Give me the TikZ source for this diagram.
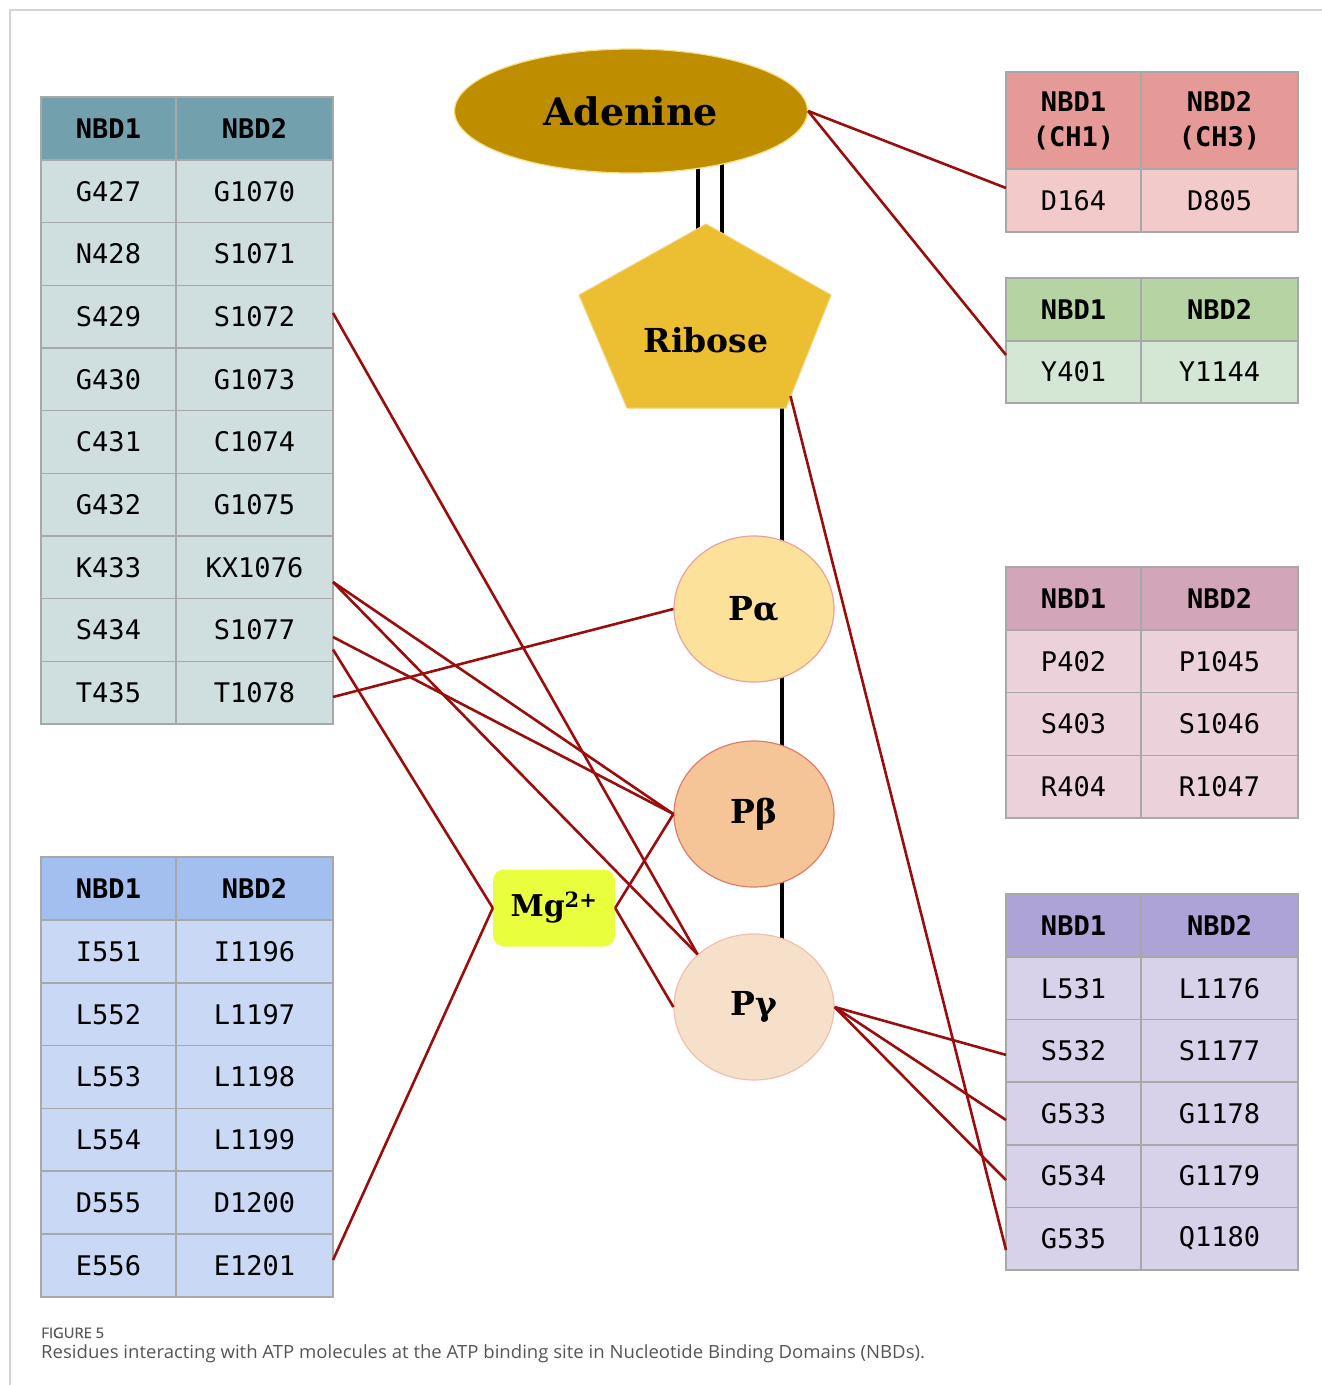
\documentclass[tikz,border=0pt]{standalone}
\usepackage{fontspec}
\setmonofont{DejaVu Sans Mono}
\newfontfamily\labfont{DejaVu Serif}
\newfontfamily\capfont{Open Sans}[FakeStretch=1.02]
\usetikzlibrary{shapes.geometric,backgrounds,calc}
\definecolor{redline}{RGB}{155,12,12}
\definecolor{tealH}{RGB}{114,160,172}
\definecolor{tealB}{RGB}{207,222,223}
\definecolor{blueH}{RGB}{163,191,239}
\definecolor{blueB}{RGB}{201,216,244}
\definecolor{redH}{RGB}{230,154,152}
\definecolor{redB}{RGB}{242,202,202}
\definecolor{greenH}{RGB}{182,211,164}
\definecolor{greenB}{RGB}{212,231,212}
\definecolor{pinkH}{RGB}{210,166,184}
\definecolor{pinkB}{RGB}{235,210,218}
\definecolor{purpH}{RGB}{173,163,214}
\definecolor{purpB}{RGB}{215,209,233}
\definecolor{gridc}{RGB}{168,168,168}
\definecolor{adenc}{RGB}{190,141,0}
\definecolor{adenb}{RGB}{246,222,130}
\definecolor{ribc}{RGB}{236,190,50}
\definecolor{ribb}{RGB}{245,210,120}
\definecolor{pac}{RGB}{252,225,154}
\definecolor{pab}{RGB}{236,160,160}
\definecolor{pbc}{RGB}{246,197,151}
\definecolor{pbb}{RGB}{224,124,108}
\definecolor{pgc}{RGB}{247,224,202}
\definecolor{pgb}{RGB}{242,190,176}
\definecolor{mgc}{RGB}{233,255,62}
\definecolor{capc}{RGB}{85,85,85}
\definecolor{framec}{RGB}{212,212,212}
\tikzset{
  cell/.style={draw=gridc, line width=1.5pt, inner sep=0pt, outer sep=0pt, align=center},
  hdr/.style={font=\fontsize{27}{35}\selectfont\ttfamily\bfseries},
  bdy/.style={font=\fontsize{27}{31}\selectfont\ttfamily},
  lab/.style={font=\labfont\bfseries\fontsize{33}{38}\selectfont, text=black},
  pellipse/.style={ellipse, minimum width=160pt, minimum height=146pt, inner sep=0pt, line width=1.2pt, lab},
  link/.style={draw=redline, line width=2.6pt},
  bond/.style={draw=black, line width=4.2pt}
}
% #1 name, #2 x left, #3 y top, #4 height, #5 fill, #6 style, #7 text1, #8 text2
\newcommand{\trow}[8]{%
  \node[cell, #6, minimum width=135pt, minimum height=#4pt, fill=#5] (#1a) at ({#2+67.5},{#3+#4/2}) {#7};
  \node[cell, #6, minimum width=157pt, minimum height=#4pt, fill=#5] (#1b) at ({#2+213.5},{#3+#4/2}) {#8};}
\begin{document}
\begin{tikzpicture}[x=1pt,y=-1pt]
\useasboundingbox (0,0) rectangle (1322,1385);
\draw[framec, line width=1.5pt] (10,1385) -- (10,10) -- (1322,10);

% ---------- left top table ----------
\trow{LTh}{41}{97}{63}{tealH}{hdr}{NBD1}{NBD2}
\trow{LTr1}{41}{160}{62.67}{tealB}{bdy}{G427}{G1070}
\trow{LTr2}{41}{222.67}{62.67}{tealB}{bdy}{N428}{S1071}
\trow{LTr3}{41}{285.33}{62.67}{tealB}{bdy}{S429}{S1072}
\trow{LTr4}{41}{348}{62.67}{tealB}{bdy}{G430}{G1073}
\trow{LTr5}{41}{410.67}{62.67}{tealB}{bdy}{C431}{C1074}
\trow{LTr6}{41}{473.33}{62.67}{tealB}{bdy}{G432}{G1075}
\trow{LTr7}{41}{536}{62.67}{tealB}{bdy}{K433}{KX1076}
\trow{LTr8}{41}{598.67}{62.67}{tealB}{bdy}{S434}{S1077}
\trow{LTr9}{41}{661.33}{62.67}{tealB}{bdy}{T435}{T1078}

% ---------- left bottom table ----------
\trow{LBh}{41}{857}{63}{blueH}{hdr}{NBD1}{NBD2}
\trow{LBr1}{41}{920}{62.8}{blueB}{bdy}{I551}{I1196}
\trow{LBr2}{41}{982.8}{62.8}{blueB}{bdy}{L552}{L1197}
\trow{LBr3}{41}{1045.6}{62.8}{blueB}{bdy}{L553}{L1198}
\trow{LBr4}{41}{1108.4}{62.8}{blueB}{bdy}{L554}{L1199}
\trow{LBr5}{41}{1171.2}{62.8}{blueB}{bdy}{D555}{D1200}
\trow{LBr6}{41}{1234}{62.8}{blueB}{bdy}{E556}{E1201}

% ---------- right tables ----------
\trow{RAh}{1006}{72}{97}{redH}{hdr}{NBD1\\(CH1)}{NBD2\\(CH3)}
\trow{RAr1}{1006}{169}{63}{redB}{bdy}{D164}{D805}

\trow{RBh}{1006}{278}{63}{greenH}{hdr}{NBD1}{NBD2}
\trow{RBr1}{1006}{341}{62}{greenB}{bdy}{Y401}{Y1144}

\trow{RCh}{1006}{567}{63}{pinkH}{hdr}{NBD1}{NBD2}
\trow{RCr1}{1006}{630}{62.67}{pinkB}{bdy}{P402}{P1045}
\trow{RCr2}{1006}{692.67}{62.67}{pinkB}{bdy}{S403}{S1046}
\trow{RCr3}{1006}{755.33}{62.67}{pinkB}{bdy}{R404}{R1047}

\trow{RDh}{1006}{894}{63}{purpH}{hdr}{NBD1}{NBD2}
\trow{RDr1}{1006}{957}{62.6}{purpB}{bdy}{L531}{L1176}
\trow{RDr2}{1006}{1019.6}{62.6}{purpB}{bdy}{S532}{S1177}
\trow{RDr3}{1006}{1082.2}{62.6}{purpB}{bdy}{G533}{G1178}
\trow{RDr4}{1006}{1144.8}{62.6}{purpB}{bdy}{G534}{G1179}
\trow{RDr5}{1006}{1207.4}{62.6}{purpB}{bdy}{G535}{Q1180}

% ---------- ATP parts ----------
\node[ellipse, minimum width=353pt, minimum height=124pt, fill=adenc, draw=adenb, line width=1.2pt, lab, font=\labfont\bfseries\fontsize{38}{44}\selectfont] (adenine) at (631,111) {Adenine};
\fill[ribc, draw=ribb, line width=1pt] (706,224) -- (831,295) -- (786,408) -- (627,408) -- (579,295) -- cycle;
\node[lab] (ribose) at (706,340) {Ribose};
\coordinate (ribctr) at (706,326);
\coordinate (ribBR) at (790.5,396);
\node[pellipse, fill=pac, draw=pab] (Pa) at (754,609) {Pα};
\node[pellipse, fill=pbc, draw=pbb] (Pb) at (754,814) {Pβ};
\node[pellipse, fill=pgc, draw=pgb] (Pg) at (754,1007) {Pγ};
\node[rectangle, rounded corners=11pt, fill=mgc, minimum width=122pt, minimum height=77pt, inner sep=0pt, lab, font=\labfont\bfseries\fontsize{30}{34}\selectfont] (Mg) at (554,908) {Mg\textsuperscript{2+}};

\begin{pgfonlayer}{background}
\draw[bond] ($(adenine.center)+(67,0)$) -- ($(ribctr)+(-8,0)$);
\draw[bond] ($(adenine.center)+(91,0)$) -- ($(ribctr)+(16,0)$);
\draw[bond] ($(ribctr)+(76,0)$) -- ($(Pa.center)+(28,0)$);
\draw[bond] ($(Pa.center)+(28,0)$) -- ($(Pb.center)+(28,0)$);
\draw[bond] ($(Pb.center)+(28,0)$) -- ($(Pg.center)+(28,0)$);
\end{pgfonlayer}

% ---------- interaction lines ----------
\draw[link] ([yshift=-14.7pt]LTr7b.east) -- (Pb.west);
\draw[link] ([yshift=-14.7pt]LTr7b.east) -- (Pg.137);
\draw[link] ([yshift=-7pt]LTr8b.east) -- (Pb.west);
\draw[link] ([yshift=-19.5pt]LTr8b.east) -- (Mg.west);
\draw[link] ([yshift=-4.3pt]LTr9b.east) -- (Pa.west);
\draw[link] ([yshift=3.7pt]LTr3b.east) -- (Pg.137);
\draw[link] (Mg.west) -- ([yshift=5.4pt]LBr6b.east);
\draw[link] (Mg.east) -- (Pb.west);
\draw[link] (Mg.east) -- (Pg.west);
\draw[link] (adenine.east) -- ([yshift=12.5pt]RAr1a.west);
\draw[link] (adenine.east) -- ([yshift=17pt]RBr1a.west);
\draw[link] (ribBR) -- ([yshift=-11.3pt]RDr5a.west);
\draw[link] (Pg.east) -- ([yshift=-4pt]RDr2a.west);
\draw[link] (Pg.east) -- ([yshift=-6.5pt]RDr3a.west);
\draw[link] (Pg.east) -- ([yshift=-4pt]RDr4a.west);

% ---------- caption ----------
\node[anchor=base west, inner sep=0pt, text=capc, font=\capfont\fontsize{14.5}{16}\selectfont\addfontfeatures{FakeBold=0.5}] (figlab) at (41,1338) {FIGURE 5};
\node[anchor=base west, inner sep=0pt, text=capc, font=\capfont\fontsize{18.2}{21}\selectfont] (figcap) at (41,1358) {Residues interacting with ATP molecules at the ATP binding site in Nucleotide Binding Domains (NBDs).};
\end{tikzpicture}
\end{document}
